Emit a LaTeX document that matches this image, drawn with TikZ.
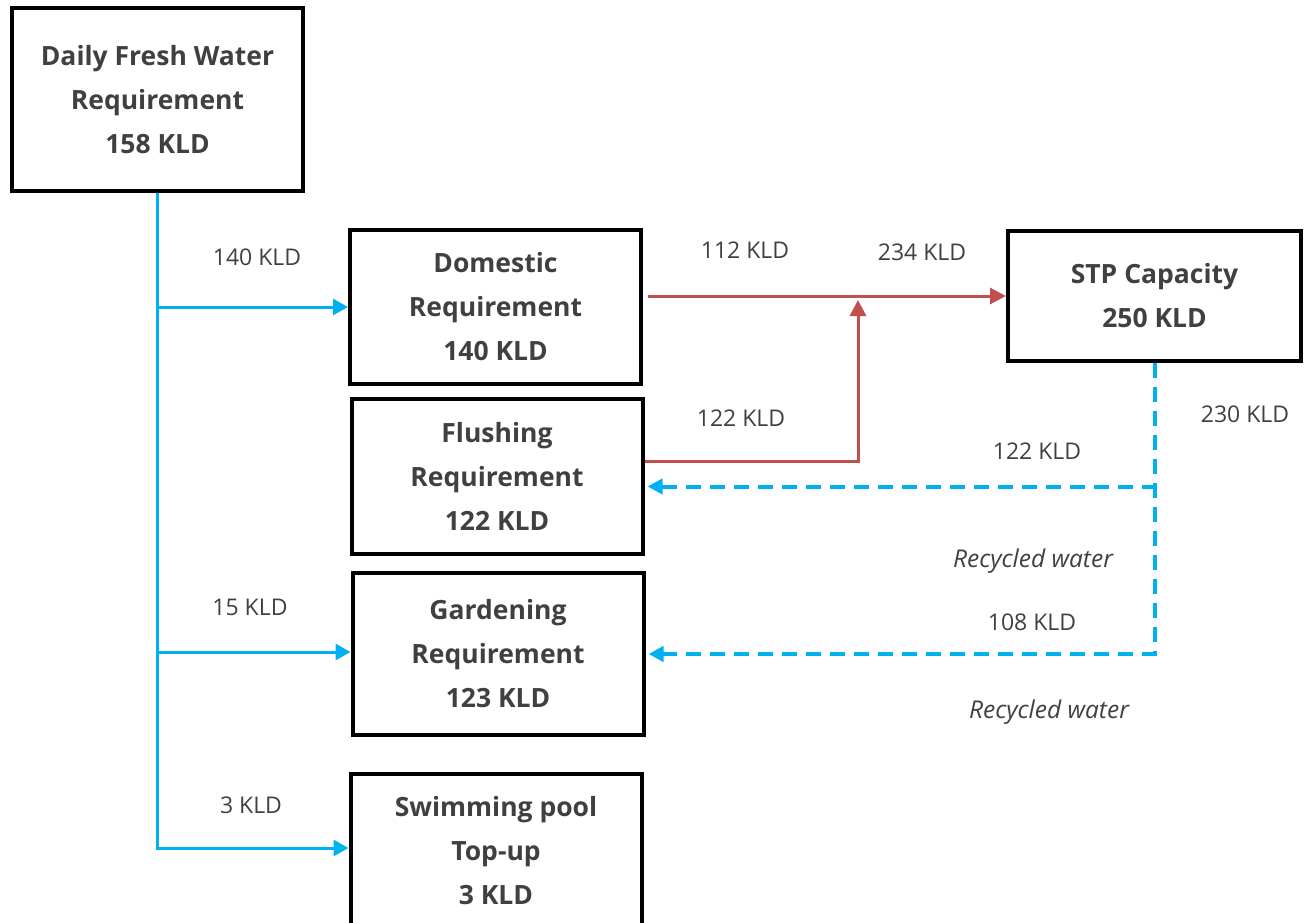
\documentclass[tikz,border=0pt]{standalone}
\usepackage{fontspec}
\setmainfont{Open Sans}
\usepackage{xcolor}
\usepackage{tikz}
\usetikzlibrary{positioning,arrows.meta}
\definecolor{txtgray}{HTML}{404040}
\definecolor{freshblue}{HTML}{00B0F0}
\definecolor{stpred}{HTML}{C0504D}

\begin{document}
\begin{tikzpicture}[x=1pt,y=-1pt,
    box/.style={draw=black,line width=4pt,minimum width=291pt,align=center,text=txtgray,
      font=\fontsize{26.5}{44}\selectfont\bfseries,inner sep=0pt},
    lbl/.style={text=txtgray,font=\fontsize{23}{26}\selectfont,inner sep=0pt},
    note/.style={lbl,font=\fontsize{24.5}{28}\selectfont\itshape},
    fresh/.style={freshblue,line width=3pt,-{Triangle[length=15pt,width=16pt]}},
    sewage/.style={stpred,line width=3pt,-{Triangle[length=16pt,width=16pt]}},
    recycled/.style={freshblue,line width=4pt,dash pattern=on 15pt off 9pt,
      -{Triangle[length=15pt,width=15pt]}}]
    \useasboundingbox (0,0) rectangle (1311,923);
    % boxes
    \node[box,minimum height=183pt] (fresh) at (157.5,99.5) {Daily Fresh Water\\Requirement\\158 KLD};
    \node[box,minimum height=154pt] (dom) at (495.5,307) {Domestic\\Requirement\\140 KLD};
    \node[box,minimum height=155pt,below=169.5pt of dom.center,anchor=center,xshift=1.5pt] (flush) {Flushing\\Requirement\\122 KLD};
    \node[box,minimum height=162pt,below=177.5pt of flush.center,anchor=center,xshift=1pt] (garden) {Gardening\\Requirement\\123 KLD};
    \node[box,minimum height=155pt,below=197pt of garden.center,anchor=center,xshift=-2pt] (swim) {Swimming pool\\Top-up\\3 KLD};
    \node[box,minimum height=130pt,minimum width=293pt] (stp) at (1154.5,296) {STP Capacity\\250 KLD};
    % fresh water supply
    \draw[freshblue,line width=3pt] (fresh.south) -- ([yshift=1.5pt]fresh.south |- swim.west);
    \draw[fresh] (fresh.south |- dom.west) -- (dom.west);
    \draw[fresh] ([yshift=2pt]fresh.south |- garden.west) -- ([yshift=2pt]garden.west);
    \draw[fresh] ([yshift=3pt]fresh.south |- swim.west) -- ([yshift=3pt]swim.west);
    \node[lbl] (l140) at (257,257) {140 KLD};
    \node[lbl] (l15) at (250,607) {15 KLD};
    \node[lbl] (l3) at (251,805) {3 KLD};
    % sewage to STP
    \coordinate (join) at (858,297);
    \draw[sewage,shorten <=5pt] (dom.east |- stp.west) -- (stp.west);
    \draw[sewage,shorten >=3pt] ([yshift=15pt]flush.east) -| (join);
    \node[lbl] (l112) at (745,250) {112 KLD};
    \node[lbl] (l234) at (922,252) {234 KLD};
    \node[lbl] (l122a) at (741,418) {122 KLD};
    % recycled water
    \coordinate (flushin) at ([yshift=-10pt]flush.east);
    \draw[recycled,-] (stp.south) -- (stp.south |- garden.east);
    \draw[recycled,shorten <=-2pt] (stp.south |- garden.east) -- ([xshift=3pt]garden.east);
    \draw[recycled,shorten <=-2pt] (stp.south |- flushin) -- ([xshift=3pt]flushin);
    \node[lbl] (l230) at (1245,414) {230 KLD};
    \node[lbl] (l122b) at (1037,451) {122 KLD};
    \node[note] (rw1) at (1033,561) {Recycled water};
    \node[lbl] (l108) at (1032,622) {108 KLD};
    \node[note] (rw2) at (1049,712) {Recycled water};
\end{tikzpicture}
\end{document}
